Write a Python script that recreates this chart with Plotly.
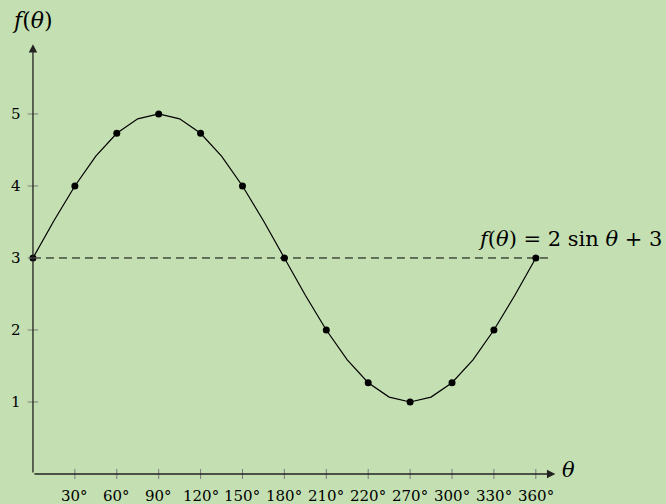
import plotly.graph_objects as go

# data
theta_pts = [0, 30, 60, 90, 120, 150, 180, 210, 240, 270, 300, 330, 360]
f_pts = [3, 4, 4.732, 5, 4.732, 4, 3, 2, 1.268, 1, 1.268, 2, 3]
theta_line = [0, 15, 30, 45, 60, 75, 90, 105, 120, 135, 150, 165, 180,
              195, 210, 225, 240, 255, 270, 285, 300, 315, 330, 345, 360]
f_line = [3, 3.518, 4, 4.414, 4.732, 4.932, 5, 4.932, 4.732, 4.414, 4, 3.518, 3,
          2.482, 2, 1.586, 1.268, 1.068, 1, 1.068, 1.268, 1.586, 2, 2.482, 3]
x_ticks = [30, 60, 90, 120, 150, 180, 210, 240, 270, 300, 330, 360]
x_labels = ['30°', '60°', '90°', '120°', '150°', '180°', '210°', '220°',
            '270°', '300°', '330°', '360°']
y_ticks = [1, 2, 3, 4, 5]

BG = '#c4e0b2'
FONT = 'DejaVu Serif'

fig = go.Figure()

# tick marks
for t in x_ticks:
    fig.add_shape(type='line', x0=t, x1=t, y0=-0.07, y1=0.07,
                  line=dict(color='#7a7a7a', width=1))
for t in y_ticks:
    fig.add_shape(type='line', x0=-3.8, x1=3.8, y0=t, y1=t,
                  line=dict(color='#7a7a7a', width=1))

# dashed line at y=3
fig.add_trace(go.Scatter(x=[0, 372], y=[3, 3], mode='lines',
                         line=dict(color='black', width=1, dash='8px,5px'),
                         hoverinfo='skip', showlegend=False))

# curve
fig.add_trace(go.Scatter(x=theta_line, y=f_line, mode='lines',
                         line=dict(color='black', width=1.2),
                         showlegend=False))
fig.add_trace(go.Scatter(x=theta_pts, y=f_pts, mode='markers',
                         marker=dict(color='black', size=7),
                         showlegend=False))

# axes with arrows
fig.add_annotation(x=374, y=0, ax=0, ay=0, xref='x', yref='y', axref='x', ayref='y',
                   text='', showarrow=True, arrowhead=2, arrowsize=1.3,
                   arrowwidth=1.3, arrowcolor='#222')
fig.add_annotation(x=0, y=5.97, ax=0, ay=0, xref='x', yref='y', axref='x', ayref='y',
                   text='', showarrow=True, arrowhead=2, arrowsize=1.3,
                   arrowwidth=1.3, arrowcolor='#222')

# tick labels
for t, lab in zip(x_ticks, x_labels):
    fig.add_annotation(x=t, y=-0.3, text=lab, showarrow=False,
                       font=dict(family=FONT, size=15, color='black'))
for t in y_ticks:
    fig.add_annotation(x=-7, y=t, text=str(t), showarrow=False, xanchor='right',
                       font=dict(family=FONT, size=15, color='black'))

# axis titles
fig.add_annotation(x=377, y=0.06, text='<i>θ</i>', showarrow=False, xanchor='left',
                   font=dict(family=FONT, size=21, color='black'))
fig.add_annotation(x=0, y=6.3, text='<i>f</i>(<i>θ</i>)', showarrow=False,
                   font=dict(family=FONT, size=22, color='black'))
fig.add_annotation(x=452, y=3.27,
                   text='<i>f</i>(<i>θ</i>) = 2 sin <i>θ</i> + 3',
                   showarrow=False, xanchor='right',
                   font=dict(family=FONT, size=21, color='black'))

fig.update_layout(
    width=666, height=504,
    paper_bgcolor=BG, plot_bgcolor=BG,
    margin=dict(l=0, r=0, t=0, b=0),
    xaxis=dict(range=[-23.6, 453.2], visible=False, fixedrange=True),
    yaxis=dict(range=[-0.417, 6.583], visible=False, fixedrange=True),
    showlegend=False,
)

fig.write_html('out.html', config={'displayModeBar': False},
               post_script="document.body.style.margin='0';document.body.style.background='%s';" % BG)
